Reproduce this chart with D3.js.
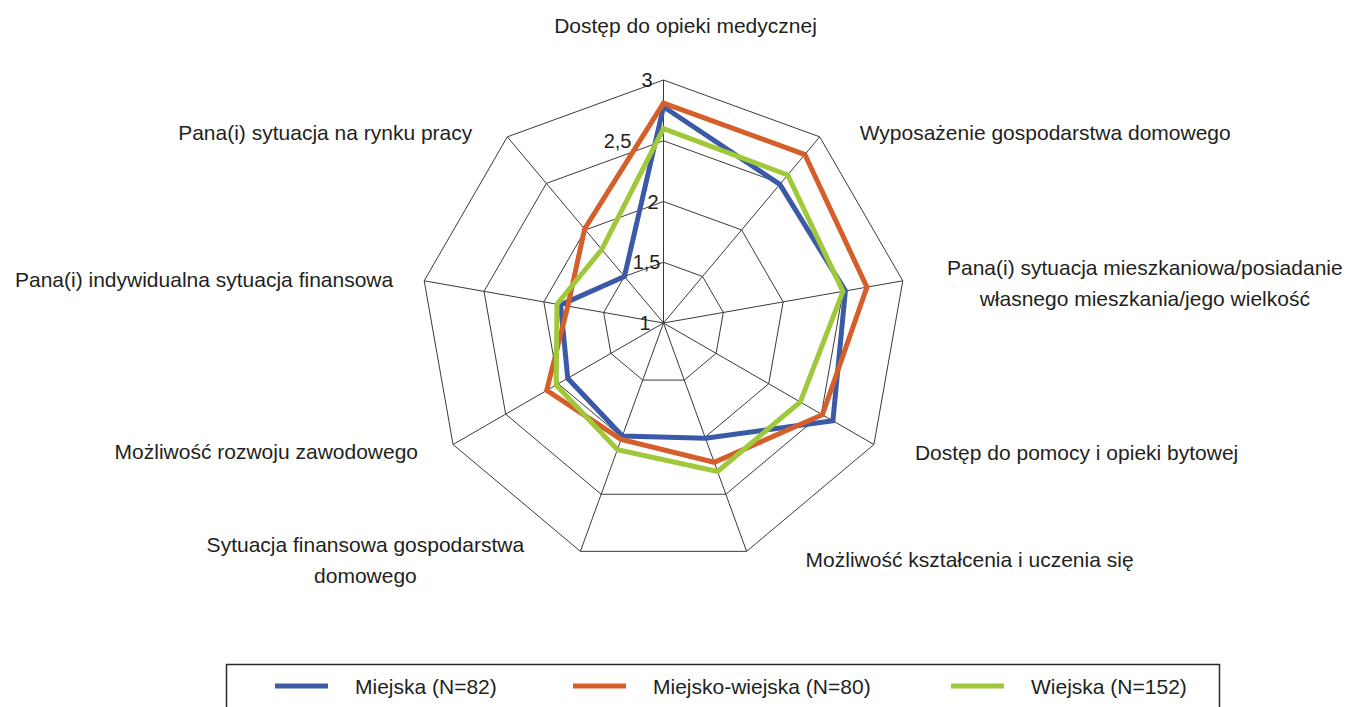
<!DOCTYPE html>
<html>
<head>
  <meta charset="utf-8">
  <script src="https://d3js.org/d3.v7.min.js"></script>
  <style>
    body { margin: 0; background: #fff; }
    svg { display: block; font-family: "Liberation Sans", Arial, sans-serif; }
    .grid line, .grid polygon { fill: none; stroke: #3a3a3a; stroke-width: 1px; }
    .axis-label, .tick-label, .legend text { fill: #231f20; }
  </style>
</head>
<body>
  <script>
    // axes, clockwise from the top
    var categories = [
      ["Dostęp do opieki medycznej"],
      ["Wyposażenie gospodarstwa domowego"],
      ["Pana(i) sytuacja mieszkaniowa/posiadanie", "własnego mieszkania/jego wielkość"],
      ["Dostęp do pomocy i opieki bytowej"],
      ["Możliwość kształcenia i uczenia się"],
      ["Sytuacja finansowa gospodarstwa", "domowego"],
      ["Możliwość rozwoju zawodowego"],
      ["Pana(i) indywidualna sytuacja finansowa"],
      ["Pana(i) sytuacja na rynku pracy"]
    ];

    var miejska        = [2.78, 2.49, 2.52, 2.61, 2.01, 1.99, 1.91, 1.86, 1.50];
    var miejskoWiejska = [2.81, 2.81, 2.70, 2.51, 2.22, 2.02, 2.11, 1.80, 2.01];
    var wiejska        = [2.60, 2.59, 2.50, 2.30, 2.30, 2.11, 2.02, 1.89, 1.79];

    var seriesNames = ["Miejska (N=82)", "Miejsko-wiejska (N=80)", "Wiejska (N=152)"];
    var ticks = [1, 1.5, 2, 2.5, 3];

    var series = [
      { name: seriesNames[0], values: miejska, color: "#3b59a7" },
      { name: seriesNames[1], values: miejskoWiejska, color: "#d55f2b" },
      { name: seriesNames[2], values: wiejska, color: "#9fc83b" }
    ];

    var width = 1349, height = 707;
    var cx = 663.5, cy = 323, R = 243;

    var svg = d3.select("body").append("svg")
        .attr("width", width)
        .attr("height", height);

    var r = d3.scaleLinear().domain([1, 3]).range([0, R]);
    var n = categories.length;
    var angle = function(i) { return i * 2 * Math.PI / n; };
    var pt = function(i, v) {
      return [cx + r(v) * Math.sin(angle(i)), cy - r(v) * Math.cos(angle(i))];
    };

    var fmt = d3.formatLocale({ decimal: ",", thousands: " ", grouping: [3], currency: ["", ""] }).format("~g");

    // grid rings + spokes
    var grid = svg.append("g").attr("class", "grid");
    grid.selectAll("polygon")
        .data(ticks.slice(1))
      .enter().append("polygon")
        .attr("points", function(t) {
          return d3.range(n).map(function(i) { return pt(i, t).join(","); }).join(" ");
        });
    grid.selectAll("line")
        .data(d3.range(n))
      .enter().append("line")
        .attr("x1", cx).attr("y1", cy)
        .attr("x2", function(i) { return pt(i, 3)[0]; })
        .attr("y2", function(i) { return pt(i, 3)[1]; });

    // value labels on the top spoke (pushed left a bit where lines cross them)
    var tickShift = [-13, -3, -5, -32, -11];
    svg.selectAll(".tick-label")
        .data(ticks)
      .enter().append("text")
        .attr("class", "tick-label")
        .attr("x", function(t, i) { return cx + tickShift[i]; })
        .attr("y", function(t) { return cy - r(t); })
        .attr("dy", "0.36em")
        .attr("text-anchor", "end")
        .style("font-size", "20px")
        .text(function(t) { return fmt(t); });

    // series
    var line = d3.lineRadial()
        .angle(function(d, i) { return angle(i); })
        .radius(function(d) { return r(d); })
        .curve(d3.curveLinearClosed);

    svg.append("g")
        .attr("transform", "translate(" + cx + "," + cy + ")")
      .selectAll("path")
        .data(series)
      .enter().append("path")
        .attr("d", function(s) { return line(s.values); })
        .attr("fill", "none")
        .attr("stroke", function(s) { return s.color; })
        .attr("stroke-width", 5)
        .attr("stroke-linejoin", "miter");

    // category labels, offset from the end of each spoke
    var labelPlace = [
      { anchor: "middle", dx: 22, dy: -55 },
      { anchor: "start", dx: 40, dy: -4 },
      { anchor: "middle", dx: 242, dy: -13 },
      { anchor: "start", dx: 41, dy: 8 },
      { anchor: "start", dx: 59, dy: 8 },
      { anchor: "middle", dx: -215, dy: -7 },
      { anchor: "end", dx: -35, dy: 7 },
      { anchor: "end", dx: -31, dy: -1 },
      { anchor: "end", dx: -35, dy: -4 }
    ];

    var labels = svg.selectAll(".axis-label")
        .data(categories)
      .enter().append("text")
        .attr("class", "axis-label")
        .style("font-size", "21px")
        .attr("text-anchor", function(d, i) { return labelPlace[i].anchor; })
        .attr("transform", function(d, i) {
          var p = pt(i, 3);
          return "translate(" + (p[0] + labelPlace[i].dx) + "," + (p[1] + labelPlace[i].dy) + ")";
        });
    labels.selectAll("tspan")
        .data(function(d) { return d; })
      .enter().append("tspan")
        .attr("x", 0)
        .attr("y", function(d, j) { return j * 31; })
        .attr("dy", "0.36em")
        .text(function(d) { return d; });

    // legend
    var legend = svg.append("g").attr("class", "legend");
    legend.append("rect")
        .attr("x", 226.5).attr("y", 664.5)
        .attr("width", 993).attr("height", 70)
        .attr("fill", "none")
        .attr("stroke", "#2a2a2a")
        .attr("stroke-width", 1.5);

    var legendX = [275, 573, 951];
    var item = legend.selectAll(".item")
        .data(series)
      .enter().append("g")
        .attr("class", "item")
        .attr("transform", function(d, i) { return "translate(" + legendX[i] + ",686)"; });
    item.append("line")
        .attr("x1", 0).attr("x2", 53)
        .attr("stroke", function(d) { return d.color; })
        .attr("stroke-width", 5);
    item.append("text")
        .attr("x", 80)
        .attr("dy", "0.36em")
        .style("font-size", "21px")
        .text(function(d) { return d.name; });
  </script>
</body>
</html>
